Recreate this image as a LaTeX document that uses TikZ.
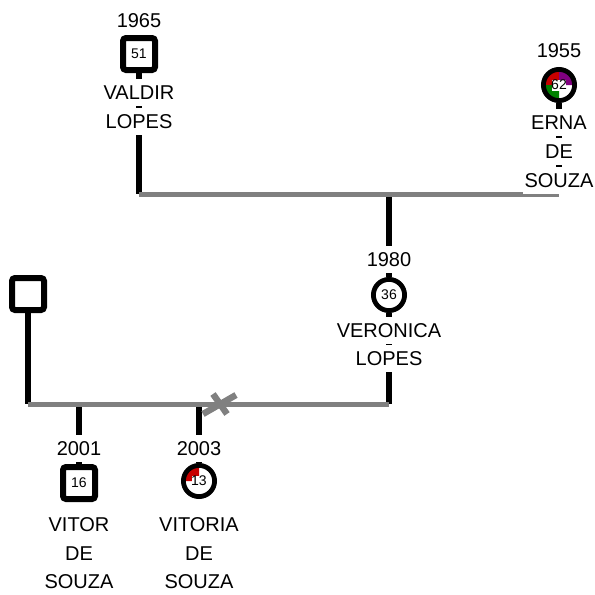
\documentclass[tikz,border=0pt]{standalone}
\usepackage{fontspec}
\setmainfont{Liberation Sans}
\usetikzlibrary{backgrounds}
\definecolor{kingray}{RGB}{128,128,128}
\definecolor{ered}{RGB}{200,0,0}
\definecolor{epurple}{RGB}{128,0,128}
\definecolor{egreen}{RGB}{0,128,0}
\begin{document}
\begin{tikzpicture}[x=0.5pt,y=-0.5pt,
    male/.style={draw,fill=white,line width=3pt,rounded corners=1.5pt,minimum size=16pt,inner sep=0pt,font=\fontsize{7}{8}\selectfont},
    female/.style={circle,draw,fill=white,line width=2.4pt,minimum size=15.6pt,inner sep=0pt,font=\fontsize{7}{8}\selectfont},
    label/.style={fill=white,inner xsep=1pt,inner ysep=3pt,text height=7.5pt,text depth=0pt,font=\fontsize{10}{12}\selectfont},
    kin/.style={line width=3pt},
    union/.style={kingray,line width=2.5pt},
    cutmark/.style={kingray,line width=3.2pt}]
        \useasboundingbox (0,0) rectangle (595,595);
        % people
        \node[male] (valdir) at (139,54) {51};
        \node[female,path picture={
            \fill[ered] (path picture bounding box.center) -- ++(90:10pt) arc[start angle=90,end angle=180,radius=10pt] -- cycle;
            \fill[epurple] (path picture bounding box.center) -- ++(0:10pt) arc[start angle=0,end angle=90,radius=10pt] -- cycle;
            \fill[egreen] (path picture bounding box.center) -- ++(180:10pt) arc[start angle=180,end angle=270,radius=10pt] -- cycle;
            \fill[white] ([shift={(-3.6pt,-3.2pt)}]path picture bounding box.center) rectangle ([shift={(3.6pt,2.6pt)}]path picture bounding box.center);}]
            (erna) at (559,85) {62};
        \node[female] (veronica) at (389,295) {36};
        \node[male] (unknown) at (28,294) {};
        \node[male] (vitor) at (79,483) {16};
        \node[female,path picture={
            \fill[ered] (path picture bounding box.center) -- ++(90:10pt) arc[start angle=90,end angle=180,radius=10pt] -- cycle;
            \fill[white] ([shift={(-3.6pt,-3.2pt)}]path picture bounding box.center) rectangle ([shift={(3.6pt,2.6pt)}]path picture bounding box.center);}]
            (vitoria) at (199,481) {13};
        % years and names
        \node[label] (valdir-y) at (139,20) {1965};
        \node[label] (valdir-n1) at (139,92) {VALDIR};
        \node[label] (valdir-n2) at (139,121) {LOPES};
        \node[label] (erna-y) at (559,50) {1955};
        \node[label] (erna-n1) at (559,122) {ERNA};
        \node[label] (erna-n2) at (559,151) {DE};
        \node[label] (erna-n3) at (559,180) {SOUZA};
        \node[label] (veronica-y) at (389,259) {1980};
        \node[label] (veronica-n1) at (389,330) {VERONICA};
        \node[label] (veronica-n2) at (389,358) {LOPES};
        \node[label] (vitor-y) at (79,448) {2001};
        \node[label] (vitor-n1) at (79,524) {VITOR};
        \node[label] (vitor-n2) at (79,553) {DE};
        \node[label] (vitor-n3) at (79,581) {SOUZA};
        \node[label] (vitoria-y) at (199,448) {2003};
        \node[label] (vitoria-n1) at (199,524) {VITORIA};
        \node[label] (vitoria-n2) at (199,553) {DE};
        \node[label] (vitoria-n3) at (199,581) {SOUZA};
        \coordinate (top) at (389,194);
        \coordinate (bottom) at (389,404);
        \coordinate (cut) at (219,404);
        % connectors
        \begin{scope}[on background layer]
            \draw[kin] (valdir) -- (valdir |- top);
            \draw[kin] (erna) -- (erna |- top);
            \draw[kin] (top) -- (veronica) -- (bottom);
            \draw[kin] (unknown) -- (unknown |- bottom);
            \draw[kin] (vitor |- bottom) -- (vitor);
            \draw[kin] (vitoria |- bottom) -- (vitoria);
            \draw[union] (valdir |- top) -- (erna |- top);
            \draw[union] (unknown |- bottom) -- (bottom);
        \end{scope}
        \draw[cutmark] ([shift={(-6,-10)}]cut) -- ([shift={(8,10)}]cut);
        \draw[cutmark] ([shift={(-16,10)}]cut) -- ([shift={(17,-9)}]cut);
      \end{tikzpicture}
\end{document}
